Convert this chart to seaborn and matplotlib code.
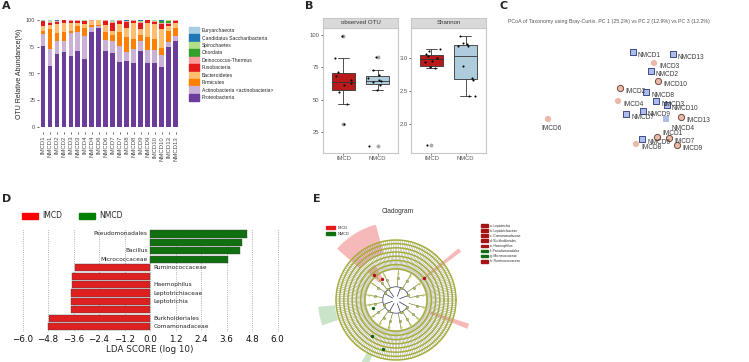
import numpy as np
import pandas as pd
import matplotlib
matplotlib.use("Agg")
import matplotlib.pyplot as plt
from matplotlib.patches import Patch
import seaborn as sns

W, H = 749, 362

# ---- panel A: relative abundance per sample (%)
samples = ['IMCD1', 'NMCD1', 'IMCD2', 'NMCD2', 'IMCD3', 'NMCD3', 'IMCD4', 'NMCD4', 'IMCD6', 'NMCD6',
           'IMCD7', 'NMCD7', 'IMCD8', 'NMCD8', 'IMCD9', 'NMCD9', 'IMCD10', 'NMCD10', 'IMCD13', 'NMCD13']
phyla = ['Euryarchaeota', 'Candidatus Saccharibacteria', 'Spirochaetes', 'Chordata', 'Deinococcus-Thermus',
         'Fusobacteria', 'Bacteroidetes', 'Firmicutes', 'Actinobacteria <actinobacteria>', 'Proteobacteria']
proteobacteria = [75.7, 57.3, 68.2, 70.4, 66.4, 71.3, 63.9, 89.1, 92.2, 71.0, 68.8, 61.1, 61.7, 59.5, 71.3, 60.1, 59.5, 56.1, 75.1, 80.7]
actinobacteria = [11, 16, 12, 10, 21, 17, 21, 4, 2.5, 10, 12, 15, 8, 13, 9, 12, 12, 11, 4, 4]
firmicutes = [3, 18, 8, 8, 2, 6, 8, 2, 1, 8, 5, 13, 14, 10, 6, 12, 11, 7, 11, 8]
bacteroidetes = [5, 4, 8, 9, 8, 3, 3, 4, 4, 6, 4, 7, 9, 15, 5, 13, 14, 17, 4, 4]
fusobacteria = [4, 2, 2, 2.5, 2, 2, 3, 0, 0, 4, 7, 3, 5, 1.5, 6, 2.5, 2, 5, 2, 2.5]
deinococcus = [0.5, 1, 0.5, 0, 0.3, 0.4, 0.5, 0.5, 0, 0.5, 1, 0.5, 1, 0.5, 1, 0.4, 0.5, 1, 1, 0.3]
chordata = [0, 0, 0, 0, 0, 0, 0, 0, 0, 0, 0, 0, 0, 0, 0, 0, 0, 1.5, 2, 0]
spirochaetes = [0, 0.5, 0.5, 0, 0, 0, 0.3, 0, 0, 0, 1, 0, 0.5, 0, 1, 0, 0.5, 0, 0.5, 0]
saccharibacteria = [0, 0.5, 0.3, 0, 0, 0, 0, 0, 0, 0, 0.5, 0, 0.3, 0, 0.5, 0, 0, 1.4, 0, 0]
euryarchaeota = [0.3, 0.5, 0.3, 0, 0.2, 0.2, 0.2, 0.3, 0.3, 0.3, 0.5, 0.3, 0.3, 0.3, 0.5, 0, 0.3, 0, 0.3, 0.3]

# ---- panel B: alpha diversity
obs_imcd = [31.4, 46.3, 56.0, 61.6, 62.8, 65.0, 68.0, 71.1, 82.4, 99.5]
obs_nmcd = [14.3, 57.4, 61.5, 63.9, 64.2, 65.0, 67.0, 69.0, 72.9, 83.2]
shannon_imcd = [1.69, 2.84, 2.86, 2.94, 2.95, 3.00, 3.02, 3.05, 3.10, 3.13]
shannon_nmcd = [2.42, 2.43, 2.67, 2.70, 2.87, 3.18, 3.18, 3.20, 3.22, 3.325]

# ---- panel C: PCoA coordinates
pcoa_samples = ['NMCD1', 'NMCD13', 'IMCD3', 'NMCD2', 'IMCD10', 'IMCD2', 'NMCD8', 'IMCD4', 'NMCD3', 'NMCD9',
                'NMCD7', 'NMCD10', 'IMCD13', 'NMCD4', 'IMCD1', 'NMCD6', 'IMCD7', 'IMCD8', 'IMCD9', 'IMCD6']
pc1 = [-0.028, 0.132, 0.056, 0.044, 0.072, -0.080, 0.024, -0.088, 0.064, 0.012,
       -0.056, 0.108, 0.164, 0.104, 0.068, 0.008, 0.116, -0.016, 0.148, -0.368]
pc2 = [0.192, 0.184, 0.148, 0.116, 0.076, 0.048, 0.032, -0.004, -0.004, -0.044,
       -0.056, -0.020, -0.068, -0.076, -0.148, -0.156, -0.152, -0.176, -0.180, -0.076]
pc3 = [0.05, 0.04, -0.03, 0.06, 0.05, 0.04, 0.07, -0.02, 0.08, 0.06,
       0.05, 0.09, 0.03, -0.04, 0.04, 0.05, 0.04, -0.03, 0.03, -0.06]

# ---- panel D: LEfSe
lda_features = ['Pseudomonadales', '', 'Bacillus', 'Micrococcaceae', 'Ruminococcaceae', '', 'Haemophilus',
                'Leptotrichiaceae', 'Leptotrichia', '', 'Burkholderiales', 'Comamonadaceae']
lda_scores = [4.58, 4.33, 4.25, 3.68, -3.54, -3.68, -3.68, -3.74, -3.74, -3.74, -4.75, -4.80]
lda_groups = ['NMCD'] * 4 + ['IMCD'] * 8

# ---- panel E: cladogram
clade_keys = ['a: Leptotrichia', 'b: Leptotrichiaceae', 'c: Comamonadaceae', 'd: Burkholderiales',
              'e: Haemophilus', 'f: Pseudomonadales', 'g: Micrococcaceae', 'h: Ruminococcaceae']
clade_key_groups = ['IMCD', 'IMCD', 'IMCD', 'IMCD', 'IMCD', 'NMCD', 'NMCD', 'IMCD']
clade_angle = [122, 128, 38, -20, 192, 244]
clade_span = [34, 14, 3, 4, 14, 6]
clade_inner = [0.80, 0.40, 0.50, 0.60, 1.02, 1.00]
clade_outer = [1.30, 0.68, 1.35, 1.28, 1.30, 1.22]
clade_group = ['IMCD', 'IMCD', 'IMCD', 'IMCD', 'NMCD', 'NMCD']
phylum_angles = [20, 70, 125, 150, 200, 240, 290, 330]
class_angles = [10, 35, 60, 85, 115, 130, 145, 170, 190, 215, 235, 255, 280, 300, 320, 345]
n_leaves = 190
ring_radii = [0.52, 0.59, 0.66, 0.73, 0.80, 0.87, 0.94, 1.0]

sns.set_theme(style="white")
plt.rcParams['font.family'] = ['Liberation Sans', 'DejaVu Sans']

fig = plt.figure(figsize=(W / 100, H / 100), dpi=100, facecolor='white')


def px_axes(x0, y0, x1, y1, **kw):
    return fig.add_axes([x0 / W, 1 - y1 / H, (x1 - x0) / W, (y1 - y0) / H], **kw)


def fx(x):
    return x / W


def fy(y):
    return 1 - y / H


# ================= A
axA = px_axes(38.8, 14.6, 180, 132.4)
df_a = pd.DataFrame({
    'Euryarchaeota': euryarchaeota, 'Candidatus Saccharibacteria': saccharibacteria,
    'Spirochaetes': spirochaetes, 'Chordata': chordata, 'Deinococcus-Thermus': deinococcus,
    'Fusobacteria': fusobacteria, 'Bacteroidetes': bacteroidetes, 'Firmicutes': firmicutes,
    'Actinobacteria <actinobacteria>': actinobacteria, 'Proteobacteria': proteobacteria}, index=samples)
pal_a = sns.color_palette("Paired", 10)
bottom = np.zeros(len(samples))
for name, col in zip(phyla[::-1], pal_a[::-1]):
    axA.bar(np.arange(len(samples)), df_a[name].values, bottom=bottom, width=0.7, color=col, linewidth=0)
    bottom += df_a[name].values
axA.set_xlim(-0.6, len(samples) - 0.4)
axA.set_ylim(-5, 105)
axA.set_yticks([0, 25, 50, 75, 100])
axA.set_xticks(np.arange(len(samples)))
axA.set_xticklabels(samples, rotation=90, fontsize=4.3, color='#4d4d4d')
axA.tick_params(axis='y', labelsize=4, labelcolor='#4d4d4d', length=1.5, width=0.5, pad=1)
axA.tick_params(axis='x', length=1.5, width=0.5, pad=1)
axA.tick_params(bottom=True, left=True)
axA.set_ylabel('OTU Relative Abundance(%)', fontsize=5, color='#222222', labelpad=2)
for s in axA.spines.values():
    s.set_visible(False)

fig.legend(handles=[Patch(color=c) for c in pal_a], labels=phyla, loc='upper left',
           bbox_to_anchor=(fx(189), fy(27)), fontsize=3.6, frameon=False, handlelength=2.0,
           handleheight=1.8, labelspacing=0.07, handletextpad=0.6, borderpad=0, borderaxespad=0)

# ================= B
box_pal = {'IMCD': '#d40000', 'NMCD': '#a6cee3'}
np.random.seed(3)
facets = [
    ('observed OTU', obs_imcd, obs_nmcd, (323, 398), (8.7, 105.4), [25, 50, 75, 100], ['25', '50', '75', '100']),
    ('Shannon', shannon_imcd, shannon_nmcd, (411, 486), (1.57, 3.445), [2.0, 2.5, 3.0], ['2.0', '2.5', '3.0']),
]
for title, vi, vn, (x0, x1), ylim, yt, ytl in facets:
    ax = px_axes(x0, 28, x1, 153)
    df_b = pd.DataFrame({'group': ['IMCD'] * len(vi) + ['NMCD'] * len(vn), 'value': vi + vn})
    sns.boxplot(data=df_b, x='group', y='value', hue='group', palette=box_pal, width=0.66,
                linewidth=0.6, linecolor='#333333', fliersize=1.8, legend=False,
                flierprops=dict(marker='o', markerfacecolor='#aaaaaa', markeredgecolor='#aaaaaa'), ax=ax)
    sns.stripplot(data=df_b, x='group', y='value', color='black', size=1.5, jitter=0.28, ax=ax)
    ax.set_xlim(-0.6, 1.6)
    ax.set_ylim(*ylim)
    ax.set_yticks(yt)
    ax.set_yticklabels(ytl)
    ax.set_xlabel('')
    ax.set_ylabel('')
    ax.tick_params(axis='both', labelsize=4.2, labelcolor='#555555', length=1.5, width=0.5, pad=1,
                   bottom=True, left=True)
    for s in ax.spines.values():
        s.set_color('#c8c8c8')
        s.set_linewidth(0.8)
    st = px_axes(x0, 18, x1, 28)
    st.set_facecolor('#d9d9d9')
    st.set_xticks([])
    st.set_yticks([])
    for s in st.spines.values():
        s.set_color('#c8c8c8')
        s.set_linewidth(0.8)
    st.text(0.5, 0.5, title, ha='center', va='center', fontsize=4.4, color='#333333', transform=st.transAxes)

# ================= C
axC = px_axes(530, 30, 748, 170)
df_c = pd.DataFrame({'sample': pcoa_samples, 'PC1': pc1, 'PC2': pc2, 'PC3': pc3})
df_c['group'] = df_c['sample'].str[:4]
styles = {'IMCD': ('o', '#ebb9a8', '#6e4a3f'), 'NMCD': ('s', '#aebce9', '#3b4b8c')}
for grp, (mk, fc, ec) in styles.items():
    sub = df_c[df_c['group'] == grp]
    back = sub[sub['PC3'] < 0]
    front = sub[sub['PC3'] >= 0]
    sns.scatterplot(data=back, x='PC1', y='PC2', marker=mk, color=fc, edgecolor='none', s=20, ax=axC)
    sns.scatterplot(data=front, x='PC1', y='PC2', marker=mk, color=fc, edgecolor=ec, linewidth=0.7, s=20, ax=axC)
offsets = {'IMCD6': ((2.5, -7), 'center'), 'NMCD4': ((4.3, -6.5), 'left'), 'IMCD1': ((3.6, 2.2), 'left')}
for _, row in df_c.iterrows():
    (dx, dy), ha = offsets.get(row['sample'], ((3.6, -2.4), 'left'))
    axC.annotate(row['sample'], (row['PC1'], row['PC2']), xytext=(dx, dy), textcoords='offset points',
                 ha=ha, va='center', fontsize=4.7, color='#3a3a3a')
axC.set_xlim(-0.44, 0.432)
axC.set_ylim(-0.28, 0.28)
axC.set_axis_off()
fig.text(fx(508), fy(22), 'PCoA of Taxonomy using Bray-Curtis. PC 1 (25.2%) vs PC 2 (12.9%) vs PC 3 (12.2%)',
         fontsize=3.8, color='#555555', ha='left', va='center')

# ================= D
axD = px_axes(18.25, 228.9, 281.75, 331.8)
df_d = pd.DataFrame({'lda': lda_scores, 'pos': [str(i) for i in range(len(lda_scores))], 'group': lda_groups})
sns.barplot(data=df_d, x='lda', y='pos', hue='group', palette={'IMCD': '#ff0000', 'NMCD': '#008000'},
            orient='y', dodge=False, width=0.86, edgecolor='#444444', linewidth=0.3, legend=False, ax=axD)
ticks = np.round(np.arange(-6, 6.01, 1.2), 1)
axD.set_xticks(ticks)
axD.set_xticklabels([f"{t:.1f}".replace('-', '\u2212') for t in ticks], family='DejaVu Sans')
axD.set_xlim(-6.2, 6.2)
axD.set_ylim(len(lda_scores) - 0.4, -0.6)
axD.set_yticks([])
axD.set_ylabel('')
axD.set_xlabel('LDA SCORE (log 10)', fontsize=6.3, family='DejaVu Sans', labelpad=1)
axD.tick_params(axis='x', labelsize=6.3, length=0, pad=2, colors='#111111')
axD.set_axisbelow(True)
axD.grid(axis='x', linestyle=':', color='#999999', linewidth=0.6)
for s in axD.spines.values():
    s.set_visible(False)
for i, (name, val) in enumerate(zip(lda_features, lda_scores)):
    if val > 0:
        axD.text(-0.1, i, name, ha='right', va='center', fontsize=4.2, family='DejaVu Sans', color='#222222')
    else:
        axD.text(0.15, i, name, ha='left', va='center', fontsize=4.2, family='DejaVu Sans', color='#222222')
fig.legend(handles=[Patch(color='#ff0000'), Patch(color='#008000')], labels=['IMCD', 'NMCD'],
           loc='center left', bbox_to_anchor=(fx(22), fy(216)), ncol=2, frameon=False,
           handlelength=2.1, handleheight=0.7, handletextpad=0.6, columnspacing=2.1, borderpad=0,
           borderaxespad=0, prop={'family': 'DejaVu Sans', 'size': 5.5})

# ================= E
cx, cy, rpx, rmax = 396, 300, 60, 1.45
axE = px_axes(cx - rpx * rmax, cy - rpx * rmax, cx + rpx * rmax, cy + rpx * rmax, projection='polar')
axE.set_ylim(0, rmax)
axE.set_axis_off()
clade_col = {'IMCD': '#f08080', 'NMCD': '#9fcf9f'}
for ang, span, r0, r1, grp in zip(clade_angle, clade_span, clade_inner, clade_outer, clade_group):
    axE.bar(np.deg2rad(ang), r1 - r0, width=np.deg2rad(span), bottom=r0, color=clade_col[grp],
            alpha=0.55, linewidth=0, zorder=1)
full = np.linspace(0, 2 * np.pi, 361)
leaf_theta = np.linspace(0, 2 * np.pi, n_leaves, endpoint=False)
axE.vlines(leaf_theta, 0.5, 1.0, color='#8e8e78', linewidth=0.3, zorder=2)
for r in ring_radii:
    axE.plot(full, np.full_like(full, r), color='#a7ae3a', linewidth=1.1, zorder=3)
ph = np.deg2rad(phylum_angles)
cl = np.deg2rad(class_angles)
axE.vlines(ph, 0.06, 0.22, color='#2b3560', linewidth=0.5, zorder=3)
axE.vlines(cl, 0.22, 0.5, color='#7f8a30', linewidth=0.5, zorder=3)
axE.plot(np.linspace(ph.min(), ph.max(), 100), np.full(100, 0.22), color='#2b3560', linewidth=0.5, zorder=3)
axE.scatter(ph, np.full(len(ph), 0.22), s=4, color='#b7c24a', edgecolor='#555', linewidth=0.2, zorder=4)
axE.scatter(cl, np.full(len(cl), 0.36), s=3, color='#b7c24a', edgecolor='#555', linewidth=0.2, zorder=4)
axE.scatter(cl, np.full(len(cl), 0.46), s=2.5, color='#c4cc5a', linewidth=0, zorder=4)
axE.scatter(np.deg2rad([125, 132, 38]), [0.42, 0.55, 0.6], s=6, color='#b01010', linewidth=0, zorder=5)
axE.scatter(np.deg2rad([200, 236, 255]), [0.40, 0.72, 0.85], s=6, color='#0d5e0d', linewidth=0, zorder=5)
fig.text(fx(398), fy(212), 'Cladogram', fontsize=4.8, color='#333333', ha='center', va='center')
fig.legend(handles=[Patch(color='#e31a1c'), Patch(color='#107010')], labels=['IMCD', 'NMCD'],
           loc='upper left', bbox_to_anchor=(fx(326), fy(226)), fontsize=2.8, frameon=False,
           handlelength=2.2, handleheight=0.9, labelspacing=0.4, handletextpad=0.8, borderpad=0, borderaxespad=0)
key_col = {'IMCD': '#a51414', 'NMCD': '#136b13'}
fig.legend(handles=[Patch(color=key_col[g]) for g in clade_key_groups], labels=clade_keys,
           loc='upper left', bbox_to_anchor=(fx(481), fy(223.5)), fontsize=2.3, frameon=False,
           handlelength=2.2, handleheight=0.9, labelspacing=0.35, handletextpad=0.6, borderpad=0, borderaxespad=0)

# ================= panel letters
for letter, x, y in [('A', 2, 1), ('B', 305, 1), ('C', 500, 1), ('D', 2, 194), ('E', 313, 194)]:
    fig.text(fx(x), fy(y), letter, fontsize=8, fontweight='bold', ha='left', va='top', family='DejaVu Sans')

fig.savefig('out.png', dpi=100, facecolor='white')
